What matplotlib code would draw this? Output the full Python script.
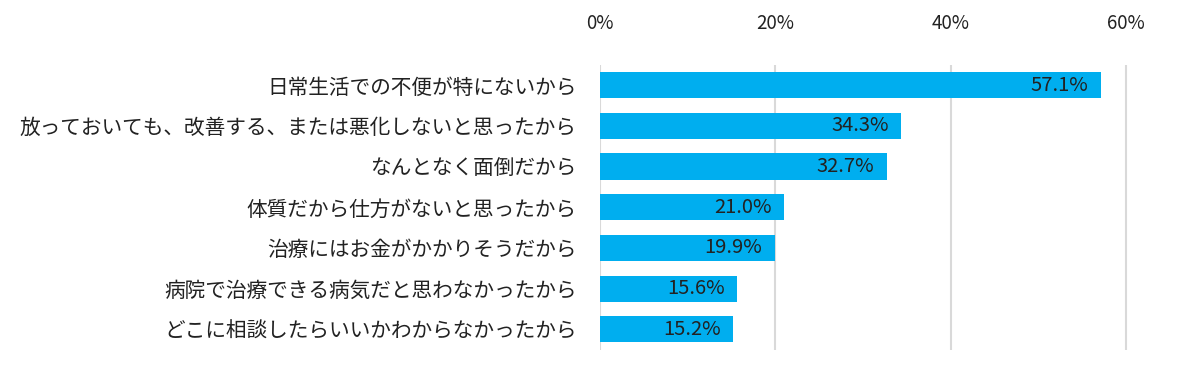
import matplotlib.pyplot as plt
import matplotlib.ticker as mticker

plt.rcParams['font.family'] = ['Noto Sans CJK JP', 'DejaVu Sans']

# data
reasons = [
    '日常生活での不便が特にないから',
    '放っておいても、改善する、または悪化しないと思ったから',
    'なんとなく面倒だから',
    '体質だから仕方がないと思ったから',
    '治療にはお金がかかりそうだから',
    '病院で治療できる病気だと思わなかったから',
    'どこに相談したらいいかわからなかったから',
]
shares = [57.1, 34.3, 32.7, 21.0, 19.9, 15.6, 15.2]
ticks = [0, 20, 40, 60]

BAR_COLOR = '#00AEEF'
TEXT_COLOR = '#222222'

fig = plt.figure(figsize=(11.79, 3.70), dpi=100)
ax = fig.add_axes([0.5089, 0.055, 0.4835, 0.770])

ypos = list(range(len(reasons)))
ax.barh(ypos, shares, height=0.64, color=BAR_COLOR, zorder=2)

# value labels inside the bar end
for y, v in zip(ypos, shares):
    ax.text(v - 1.4, y, f'{v:.1f}%', ha='right', va='center',
            fontsize=14.5, color=TEXT_COLOR, zorder=3)

ax.set_ylim(len(reasons) - 0.5, -0.5)
ax.set_xlim(0, 65)
ax.set_yticks(ypos)
ax.set_yticklabels(reasons, fontsize=14.9, color=TEXT_COLOR)
ax.set_xticks(ticks)
ax.xaxis.set_major_formatter(mticker.FuncFormatter(lambda x, p: f'{x:.0f}%'))
ax.xaxis.tick_top()
ax.tick_params(axis='x', length=0, pad=22, labelsize=13.5, labelcolor=TEXT_COLOR)
ax.tick_params(axis='y', length=0, pad=17)

ax.grid(axis='x', color='#d9d9d9', linewidth=1.5, zorder=0)
for s in ax.spines.values():
    s.set_visible(False)

fig.savefig('out.png', dpi=100)
